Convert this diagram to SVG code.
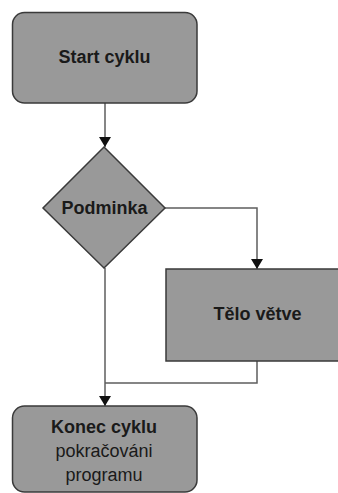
<svg xmlns="http://www.w3.org/2000/svg" width="338" height="493" viewBox="0 0 338 493">
  <defs>
    <marker id="arrow" viewBox="0 0 10 12" refX="10" refY="6" markerWidth="10" markerHeight="12" markerUnits="userSpaceOnUse" orient="auto">
      <path d="M0,0 L10,6 L0,12 Z" fill="#111"/>
    </marker>
    <style>
      .shape { fill: #999999; stroke: #3a3a3a; stroke-width: 1.5; }
      .edge { fill: none; stroke: #5e5e5e; stroke-width: 1.5; }
      .label { font-family: "Liberation Sans", Arial, Helvetica, sans-serif; font-size: 18px; fill: #1a1a1a; text-anchor: middle; }
      .bold { font-weight: bold; }
    </style>
  </defs>
  <rect width="338" height="493" fill="#ffffff"/>

  <!-- connectors -->
  <g id="connectors">
    <path class="edge" d="M105,103 V147" marker-end="url(#arrow)"/>
    <path class="edge" d="M165,208 H257 V269" marker-end="url(#arrow)"/>
    <path class="edge" d="M105,268 V406" marker-end="url(#arrow)"/>
    <path class="edge" d="M257,361 V383 H105"/>
  </g>

  <!-- start node -->
  <g id="start">
    <rect class="shape" x="12.5" y="12.5" width="184.5" height="90.5" rx="12" ry="12"/>
    <text class="label bold" x="104.5" y="63">Start cyklu</text>
  </g>

  <!-- condition -->
  <g id="condition">
    <polygon class="shape" points="104,147 165,208 104,268 43,208"/>
    <text class="label bold" x="104.5" y="214">Podminka</text>
  </g>

  <!-- branch body -->
  <g id="body">
    <rect class="shape" x="166" y="269" width="183" height="92"/>
    <text class="label bold" x="257.5" y="320">Tělo větve</text>
  </g>

  <!-- end node -->
  <g id="end">
    <rect class="shape" x="12.5" y="406" width="184.5" height="86" rx="12" ry="12"/>
    <text class="label bold" x="104" y="433">Konec cyklu</text>
    <text class="label" x="104" y="457">pokračováni</text>
    <text class="label" x="104" y="481">programu</text>
  </g>
</svg>
